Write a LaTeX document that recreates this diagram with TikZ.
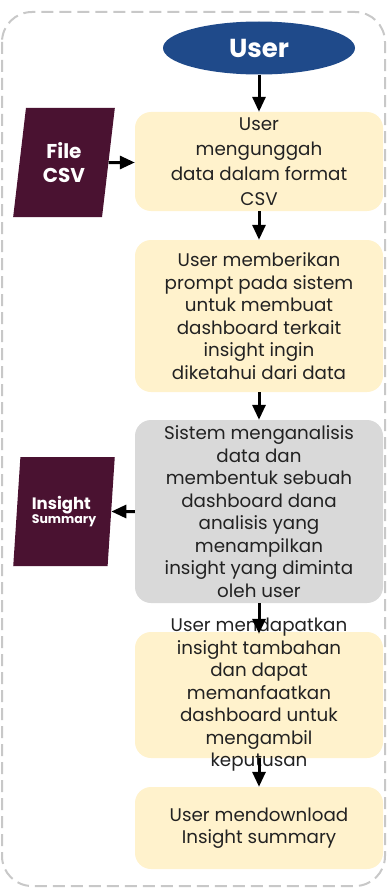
\documentclass[tikz,border=0pt]{standalone}
\usepackage{fontspec}
\setmainfont{Poppins}
\usetikzlibrary{shapes.geometric,arrows.meta}
\definecolor{borderc}{HTML}{C8C8C8}
\definecolor{userblue}{HTML}{1F4A8A}
\definecolor{maroon}{HTML}{4A1231}
\definecolor{ybg}{HTML}{FFF2CC}
\definecolor{gbg}{HTML}{D9D9D9}
\definecolor{tcol}{HTML}{222222}
\begin{document}
\begin{tikzpicture}[x=1pt,y=-1pt,
  box/.style={rounded corners=16pt, minimum width=248pt, inner sep=0pt, draw=none},
  ybox/.style={box, fill=ybg},
  gbox/.style={box, fill=gbg},
  txt/.style={align=center, text=tcol, inner sep=0pt, font=\fontsize{18.3}{22.5}\selectfont},
  pgram/.style={trapezium, trapezium left angle=80, trapezium right angle=100, trapezium stretches=true,
    minimum width=102pt, minimum height=109pt, inner sep=0pt, fill=maroon, text=white, font=\bfseries},
  arr/.style={line width=3pt, -{Triangle[width=13pt,length=15pt]}, black}
]
\useasboundingbox (0,0) rectangle (386,888);
\draw[borderc, line width=2pt, dash pattern=on 12pt off 6pt, rounded corners=30pt] (2,12) rectangle (385,886);

\node[ellipse, fill=userblue, minimum width=192pt, minimum height=53pt, inner sep=0pt,
  text=white, font=\fontsize{26}{30}\bfseries] (user) at (259,48) {User};

\node[ybox, minimum height=99pt] (b1) at (259,161.5) {};
\node[txt, font=\fontsize{18.3}{25}\selectfont] (t1) at (b1.center) {User\\mengunggah\\data dalam format\\CSV};

\node[ybox, minimum height=152pt] (b2) at (259,316) {};
\node[txt] (t2) at (b2.center) {User memberikan\\prompt pada sistem\\untuk membuat\\dashboard terkait\\insight ingin\\diketahui dari data};

\node[gbox, minimum height=183pt] (b3) at (259,511.5) {};
\node[txt] (t3) at (b3.center) {Sistem menganalisis\\data dan\\membentuk sebuah\\dashboard dana\\analisis yang\\menampilkan\\insight yang diminta\\oleh user};

\node[ybox, minimum height=126pt] (b4) at (259,695) {};
\node[txt] (t4) at (b4.center) {User mendapatkan\\insight tambahan\\dan dapat\\memanfaatkan\\dashboard untuk\\mengambil\\keputusan};

\node[ybox, minimum height=82pt] (b5) at (259,828) {};
\node[txt] (t5) at (b5.center) {User mendownload\\Insight summary};

\node[pgram, align=center, font=\fontsize{20}{24}\bfseries] (csv) at (64,162.5) {File\\CSV};
\node[pgram, align=left] (ins) at (64,511.5) {{\fontsize{16.5}{19}\bfseries Insight}\\[-1pt]{\fontsize{12.5}{14}\bfseries Summary}};

\draw[arr] (user) -- (b1);
\draw[arr] (csv) -- (csv -| b1.west);
\draw[arr] (b1) -- (b2);
\draw[arr] (b2) -- (b3);
\draw[arr] (b3.west |- ins) -- (ins);
\draw[arr] (b3.south) -- ([yshift=-2pt]b4.north);
\draw[arr] (b4.south) -- (b5.north);
\end{tikzpicture}
\end{document}
